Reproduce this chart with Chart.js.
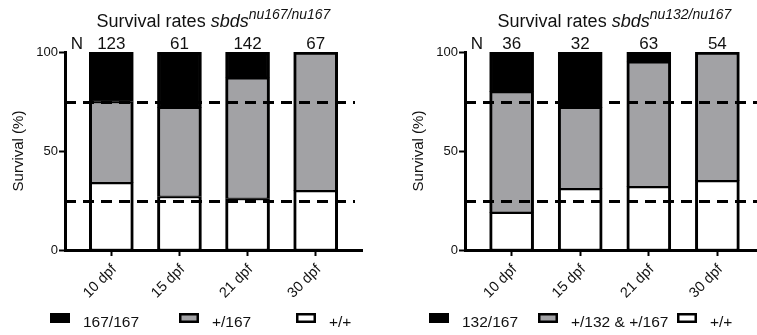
<!DOCTYPE html>
<html>
<head>
<meta charset="utf-8">
<script src="https://cdn.jsdelivr.net/npm/chart.js@4.4.1/dist/chart.umd.min.js"></script>
<style>
  html, body { margin: 0; padding: 0; background: #fff; overflow: hidden; }
  #wrap { position: relative; width: 757px; height: 335px; overflow: hidden; }
  canvas { position: absolute; top: 0; }
</style>
</head>
<body>
<div id="wrap">
  <canvas id="left" width="378" height="335" style="left:0"></canvas>
  <canvas id="right" width="390" height="335" style="left:378px"></canvas>
</div>
<script>
const categories = ['10 dpf', '15 dpf', '21 dpf', '30 dpf'];
const yTicks = [0, 50, 100];
const guides = [25, 75];

// sbds nu167/nu167
const leftN = [123, 61, 142, 67];
const leftWT = [34, 27, 26, 30];
const leftHet = [41, 45, 61, 70];
const leftMut = [25, 28, 13, 0];
const leftLabels = ['+/+', '+/167', '167/167'];
const leftSup = 'nu167/nu167';

// sbds nu132/nu167
const rightN = [36, 32, 63, 54];
const rightWT = [19, 31, 32, 35];
const rightHet = [61, 41, 63, 65];
const rightMut = [20, 28, 5, 0];
const rightLabels = ['+/+', '+/132 & +/167', '132/167'];
const rightSup = 'nu132/nu167';

const FONT = "'Liberation Sans', Arial, sans-serif";
const INK = '#111';
const fills = ['#ffffff', '#a2a2a5', '#000000'];

// thick outline on the outside of each stack, ~3px line between segments
function segBorder(c) {
  const ds = c.chart.data.datasets;
  let topmost = true;
  for (let j = c.datasetIndex + 1; j < ds.length; j++) {
    if (ds[j].data[c.dataIndex].y > 0) topmost = false;
  }
  return {left: 3, right: 3, top: topmost ? 3 : 2, bottom: 1};
}

const extras = {
  id: 'extras',
  afterDatasetsDraw(chart, args, opts) {
    const {ctx, chartArea, scales: {x, y}} = chart;
    ctx.save();

    // 25% / 75% reference lines
    ctx.strokeStyle = '#000';
    ctx.lineWidth = 3;
    ctx.setLineDash([11, 7]);
    guides.forEach(g => {
      const py = Math.round(y.getPixelForValue(g)) + 0.5;
      ctx.beginPath();
      ctx.moveTo(chartArea.left, py);
      ctx.lineTo(chartArea.right - 7, py);
      ctx.stroke();
    });
    ctx.setLineDash([]);

    // N per group
    ctx.fillStyle = INK;
    ctx.font = '17px ' + FONT;
    ctx.textAlign = 'center';
    ctx.textBaseline = 'alphabetic';
    const ny = chartArea.top - 3;
    ctx.fillText('N', chartArea.left + 12, ny);
    opts.counts.forEach((n, i) => ctx.fillText(String(n), x.getPixelForValue(i), ny));

    // title with italic gene name + superscript
    const cx = (chartArea.left + chartArea.right) / 2;
    const parts = [
      {t: 'Survival rates ', f: '18px ' + FONT, dy: 0},
      {t: 'sbds', f: 'italic 18px ' + FONT, dy: 0},
      {t: opts.sup, f: 'italic 14px ' + FONT, dy: -8}
    ];
    let w = 0;
    parts.forEach(p => { ctx.font = p.f; p.w = ctx.measureText(p.t).width; w += p.w; });
    let tx = cx - w / 2;
    ctx.textAlign = 'left';
    parts.forEach(p => { ctx.font = p.f; ctx.fillText(p.t, tx, 27 + p.dy); tx += p.w; });

    // legend (reverse dataset order)
    ctx.font = '15.5px ' + FONT;
    const ds = chart.data.datasets.slice().reverse();
    ds.forEach((d, i) => {
      const bx = opts.legendX[i];
      ctx.fillStyle = d.backgroundColor;
      ctx.fillRect(bx, 313, 20, 10);
      ctx.strokeStyle = '#000';
      ctx.lineWidth = 2.5;
      ctx.strokeRect(bx + 1.25, 314.25, 17.5, 7.5);
      ctx.fillStyle = INK;
      ctx.fillText(d.label, bx + 33, 327);
    });
    ctx.restore();
  }
};

function makeChart(id, wt, het, mut, labels, counts, sup, legendX, pad) {
  const mk = (label, vals, i) => ({
    label,
    data: vals.map((v, k) => ({x: k, y: v})),
    backgroundColor: fills[i], borderColor: '#000',
    borderWidth: segBorder, borderSkipped: false, barThickness: 44
  });
  return new Chart(document.getElementById(id), {
    type: 'bar',
    data: {
      datasets: [mk(labels[0], wt, 0), mk(labels[1], het, 1), mk(labels[2], mut, 2)]
    },
    options: {
      responsive: false,
      animation: false,
      layout: {padding: pad},
      plugins: {
        legend: {display: false},
        tooltip: {enabled: false},
        extras: {counts, sup, legendX}
      },
      scales: {
        x: {
          type: 'linear',
          stacked: true,
          offset: false,
          min: -0.68,
          max: 3.68,
          afterBuildTicks: s => { s.ticks = categories.map((c, i) => ({value: i})); },
          afterFit: s => { s.height = 85; },
          grid: {offset: false, drawOnChartArea: false, drawTicks: true, tickLength: 6, tickColor: '#000', tickWidth: 2},
          border: {color: '#000', width: 3},
          ticks: {
            callback: v => categories[v],
            minRotation: 45, maxRotation: 45,
            padding: 5, labelOffset: 3,
            color: INK, font: {family: FONT, size: 14.5}
          }
        },
        y: {
          stacked: true,
          min: 0,
          max: 100,
          afterBuildTicks: s => { s.ticks = yTicks.map(v => ({value: v})); },
          afterFit: s => { s.width = 55; },
          grid: {drawOnChartArea: false, drawTicks: true, tickLength: 6, tickColor: '#000', tickWidth: 2},
          border: {color: '#000', width: 3},
          ticks: {padding: 1, color: INK, font: {family: FONT, size: 13}},
          title: {display: true, text: 'Survival (%)', color: INK, padding: 0, font: {family: FONT, size: 15}}
        }
      }
    },
    plugins: [extras]
  });
}

makeChart('left', leftWT, leftHet, leftMut, leftLabels, leftN, leftSup,
  [50, 179, 296], {left: 10, top: 52, right: 16, bottom: 0});
makeChart('right', rightWT, rightHet, rightMut, rightLabels, rightN, rightSup,
  [51, 160, 299], {left: 32, top: 52, right: 4, bottom: 0});
</script>
</body>
</html>
